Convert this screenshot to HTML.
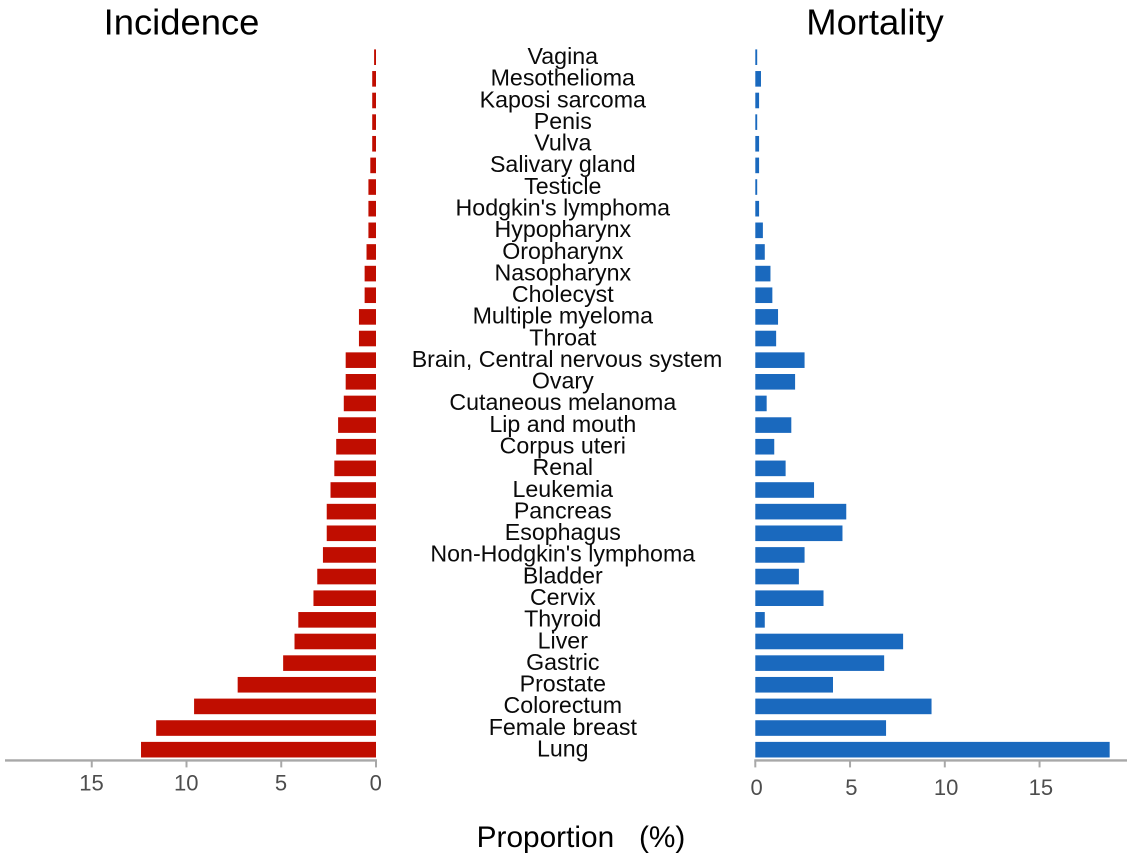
<!DOCTYPE html>
<html>
<head>
<meta charset="utf-8">
<title>Incidence and Mortality</title>
<style>
html,body{margin:0;padding:0;background:#fff;width:1138px;height:868px;overflow:hidden}
svg{display:block;font-family:"Liberation Sans",Arial,sans-serif}
</style>
</head>
<body>
<svg id="chart" width="1138" height="868" viewBox="0 0 1138 868" xmlns="http://www.w3.org/2000/svg">
  <text x="181.5" y="34.5" font-size="36.4" text-anchor="middle" fill="#000">Incidence</text>
  <text x="875" y="34.5" font-size="36.4" text-anchor="middle" fill="#000">Mortality</text>
  <text x="581" y="847" font-size="29.8" text-anchor="middle" fill="#000" xml:space="preserve">Proportion   (%)</text>
  <g id="bars-left"></g>
  <g id="bars-right"></g>
  <g id="labels"></g>
  <g id="axis-left"></g>
  <g id="axis-right"></g>
</svg>
<script>
const categories = ["Vagina","Mesothelioma","Kaposi sarcoma","Penis","Vulva","Salivary gland","Testicle","Hodgkin's lymphoma","Hypopharynx","Oropharynx","Nasopharynx","Cholecyst","Multiple myeloma","Throat","Brain, Central nervous system","Ovary","Cutaneous melanoma","Lip and mouth","Corpus uteri","Renal","Leukemia","Pancreas","Esophagus","Non-Hodgkin's lymphoma","Bladder","Cervix","Thyroid","Liver","Gastric","Prostate","Colorectum","Female breast","Lung"];
const incidence = [0.1,0.2,0.2,0.2,0.2,0.3,0.4,0.4,0.4,0.5,0.6,0.6,0.9,0.9,1.6,1.6,1.7,2.0,2.1,2.2,2.4,2.6,2.6,2.8,3.1,3.3,4.1,4.3,4.9,7.3,9.6,11.6,12.4];
const mortality = [0.1,0.3,0.2,0.1,0.2,0.2,0.1,0.2,0.4,0.5,0.8,0.9,1.2,1.1,2.6,2.1,0.6,1.9,1.0,1.6,3.1,4.8,4.6,2.6,2.3,3.6,0.5,7.8,6.8,4.1,9.3,6.9,18.7];
const tickLabels = [0,5,10,15];

const NS = 'http://www.w3.org/2000/svg';
const unit = 18.95;
const leftZero = 376;
const rightZero = 755.3;
const firstCenter = 57.2;
const rowStep = 21.64;
const barHeight = 15.6;
const axisY = 760.4;

const xLeft = v => leftZero - v * unit;
const xRight = v => rightZero + v * unit;
const yRow = i => firstCenter + i * rowStep;

function make(tag, attrs, parent) {
  const el = document.createElementNS(NS, tag);
  for (const k in attrs) el.setAttribute(k, attrs[k]);
  parent.appendChild(el);
  return el;
}

const barsLeft = document.getElementById('bars-left');
const barsRight = document.getElementById('bars-right');
const labels = document.getElementById('labels');

categories.forEach((name, i) => {
  const cy = yRow(i);
  const a = make('rect', {x: xLeft(incidence[i]), y: cy - barHeight / 2, width: incidence[i] * unit, height: barHeight, fill: '#C00D00'}, barsLeft);
  
  
  const b = make('rect', {x: rightZero, y: cy - barHeight / 2, width: mortality[i] * unit, height: barHeight, fill: '#1A69BE'}, barsRight);
  
  
  const labelX = name.startsWith('Brain') ? 567 : 562.8;
  const t = make('text', {x: labelX, y: cy + 6.8, 'font-size': 23.2, 'text-anchor': 'middle', fill: '#0a0a0a'}, labels);
  t.textContent = name;
  
  
});

function drawAxis(group, scale, x1, x2, labelY, labelOffset) {
  const line = make('line', {x1: x1, x2: x2, y1: axisY, y2: axisY, stroke: '#a8a8a8', 'stroke-width': 2.4}, group);
  
  
  tickLabels.forEach(v => {
    const x = scale(v);
    const tick = make('line', {x1: x, x2: x, y1: axisY, y2: axisY + 7, stroke: '#a8a8a8', 'stroke-width': 2}, group);
    
    
    const label = make('text', {x: x + labelOffset, y: labelY, 'font-size': 22, 'text-anchor': 'middle', fill: '#4d4d4d'}, group);
    label.textContent = v;
    
    
  });
}

drawAxis(document.getElementById('axis-left'), xLeft, 5, 377, 790.7, -0.3);
drawAxis(document.getElementById('axis-right'), xRight, 754.3, 1127, 795, 1.3);
</script>
</body>
</html>
